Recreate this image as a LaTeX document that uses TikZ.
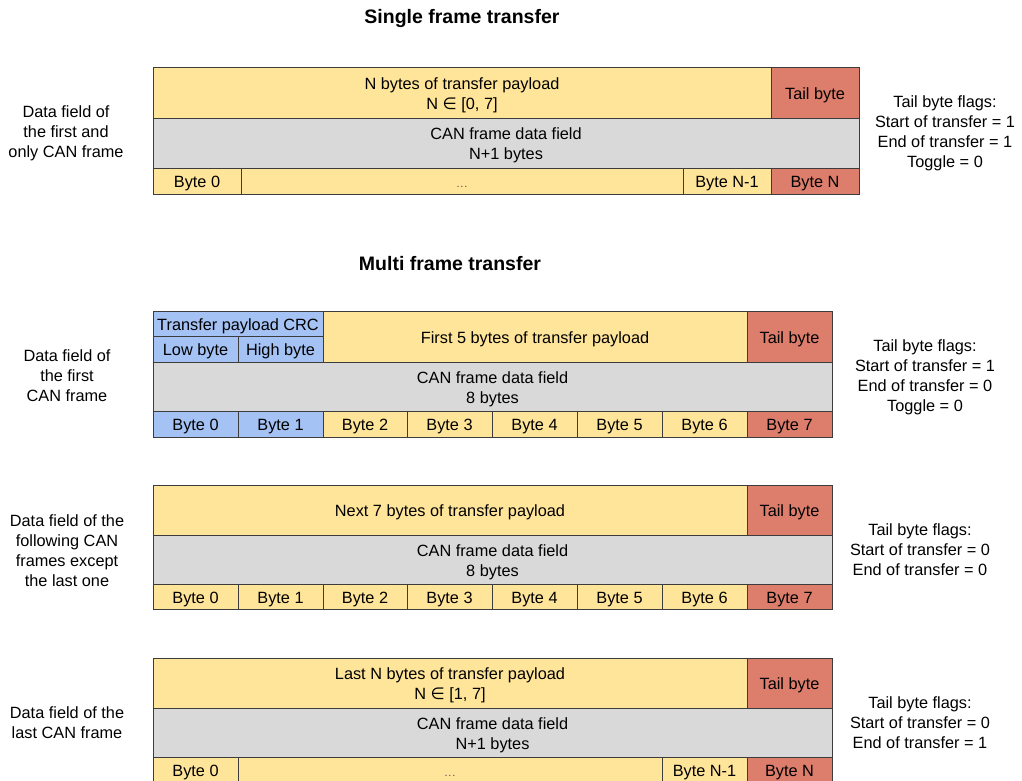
\documentclass[tikz,border=0pt]{standalone}
\usepackage{fontspec}
\setmainfont{Liberation Sans}
\newfontfamily\dejavu{DejaVu Sans}
\definecolor{cyel}{RGB}{255,229,153}
\definecolor{cred}{RGB}{221,125,107}
\definecolor{cgray}{RGB}{217,217,217}
\definecolor{cblue}{RGB}{164,194,244}
\definecolor{cline}{RGB}{60,60,60}
\newcommand{\elem}{{\dejavu ∈}}
\newcommand{\dotsfill}{{\fontsize{11}{12}\selectfont\color{black!70}.\kern0.8pt.\kern0.8pt.}}
% \cellbox{name}{x1}{y1}{x2}{y2}{fill}{text}
\newcommand{\cellbox}[7]{%
  \pgfmathsetmacro{\cw}{#4-#2}\pgfmathsetmacro{\ch}{#5-#3}%
  \node[cellst, fill=#6, minimum width=\cw pt, minimum height=\ch pt] (#1) at ({(#2+#4)/2},{(#3+#5)/2}) {\raisebox{-2.5pt}[\height][\depth]{\begin{tabular}{@{}c@{}}#7\end{tabular}}};}
\tikzset{
  cellst/.style={draw=cline, line width=0.9pt, inner sep=0pt, font=\fontsize{16.3}{20}\selectfont},
  sidelbl/.style={align=center, inner sep=0pt, font=\fontsize{16.3}{20}\selectfont},
  titlelbl/.style={inner sep=0pt, font=\fontsize{19.5}{24}\selectfont\bfseries}
}
\begin{document}
\begin{tikzpicture}[x=1pt,y=-1pt]
\useasboundingbox (0,0) rectangle (1022,780);
\clip (0,0) rectangle (1022,780);
\fill[white] (0,0) rectangle (1022,780);
% titles
\node[titlelbl] (t1) at (462,18) {Single frame transfer};
\node[titlelbl] (t2) at (450,264) {Multi frame transfer};
% single frame
\cellbox{sP}{153}{67}{771}{118}{cyel}{N bytes of transfer payload\\N \elem{} [0, 7]}
\cellbox{sT}{771}{67}{859}{118}{cred}{Tail byte}
\cellbox{sC}{153}{118}{859}{168}{cgray}{CAN frame data field\\N+1 bytes}
\cellbox{sB0}{153}{168}{241}{194}{cyel}{Byte 0}
\cellbox{sBd}{241}{168}{683}{194}{cyel}{\dotsfill}
\cellbox{sBm}{683}{168}{771}{194}{cyel}{Byte N-1}
\cellbox{sBn}{771}{168}{859}{194}{cred}{Byte N}
\node[sidelbl] (sL) at (66,133) {Data field of\\the first and\\only CAN frame};
\node[sidelbl] (sR) at (945,133) {Tail byte flags:\\Start of transfer = 1\\End of transfer = 1\\Toggle = 0};
% multi frame: first
\cellbox{aCRC}{153}{311}{323}{336}{cblue}{Transfer payload CRC}
\cellbox{aLo}{153}{336}{238}{362}{cblue}{Low byte}
\cellbox{aHi}{238}{336}{323}{362}{cblue}{High byte}
\cellbox{aP}{323}{311}{747}{362}{cyel}{First 5 bytes of transfer payload}
\cellbox{aT}{747}{311}{832}{362}{cred}{Tail byte}
\cellbox{aC}{153}{362}{832}{411}{cgray}{CAN frame data field\\8 bytes}
\cellbox{aB0}{153}{411}{238}{437}{cblue}{Byte 0}
\cellbox{aB1}{238}{411}{323}{437}{cblue}{Byte 1}
\cellbox{aB2}{323}{411}{407}{437}{cyel}{Byte 2}
\cellbox{aB3}{407}{411}{492}{437}{cyel}{Byte 3}
\cellbox{aB4}{492}{411}{577}{437}{cyel}{Byte 4}
\cellbox{aB5}{577}{411}{662}{437}{cyel}{Byte 5}
\cellbox{aB6}{662}{411}{747}{437}{cyel}{Byte 6}
\cellbox{aB7}{747}{411}{832}{437}{cred}{Byte 7}
\node[sidelbl] (aL) at (67,376) {Data field of\\the first\\CAN frame};
\node[sidelbl] (aR) at (925,377) {Tail byte flags:\\Start of transfer = 1\\End of transfer = 0\\Toggle = 0};
% multi frame: following
\cellbox{bP}{153}{485}{747}{535}{cyel}{Next 7 bytes of transfer payload}
\cellbox{bT}{747}{485}{832}{535}{cred}{Tail byte}
\cellbox{bC}{153}{535}{832}{584}{cgray}{CAN frame data field\\8 bytes}
\cellbox{bB0}{153}{584}{238}{609}{cyel}{Byte 0}
\cellbox{bB1}{238}{584}{323}{609}{cyel}{Byte 1}
\cellbox{bB2}{323}{584}{407}{609}{cyel}{Byte 2}
\cellbox{bB3}{407}{584}{492}{609}{cyel}{Byte 3}
\cellbox{bB4}{492}{584}{577}{609}{cyel}{Byte 4}
\cellbox{bB5}{577}{584}{662}{609}{cyel}{Byte 5}
\cellbox{bB6}{662}{584}{747}{609}{cyel}{Byte 6}
\cellbox{bB7}{747}{584}{832}{609}{cred}{Byte 7}
\node[sidelbl] (bL) at (67,551) {Data field of the\\following CAN\\frames except\\the last one};
\node[sidelbl] (bR) at (920,550) {Tail byte flags:\\Start of transfer = 0\\End of transfer = 0};
% multi frame: last
\cellbox{cP}{153}{658}{747}{708}{cyel}{Last N bytes of transfer payload\\N \elem{} [1, 7]}
\cellbox{cT}{747}{658}{832}{708}{cred}{Tail byte}
\cellbox{cC}{153}{708}{832}{757}{cgray}{CAN frame data field\\N+1 bytes}
\cellbox{cB0}{153}{757}{238}{783}{cyel}{Byte 0}
\cellbox{cBd}{238}{757}{662}{783}{cyel}{\dotsfill}
\cellbox{cBm}{662}{757}{747}{783}{cyel}{Byte N-1}
\cellbox{cBn}{747}{757}{832}{783}{cred}{Byte N}
\node[sidelbl] (cL) at (67,723) {Data field of the\\last CAN frame};
\node[sidelbl] (cR) at (920,722.5) {Tail byte flags:\\Start of transfer = 0\\End of transfer = 1};
\end{tikzpicture}
\end{document}
